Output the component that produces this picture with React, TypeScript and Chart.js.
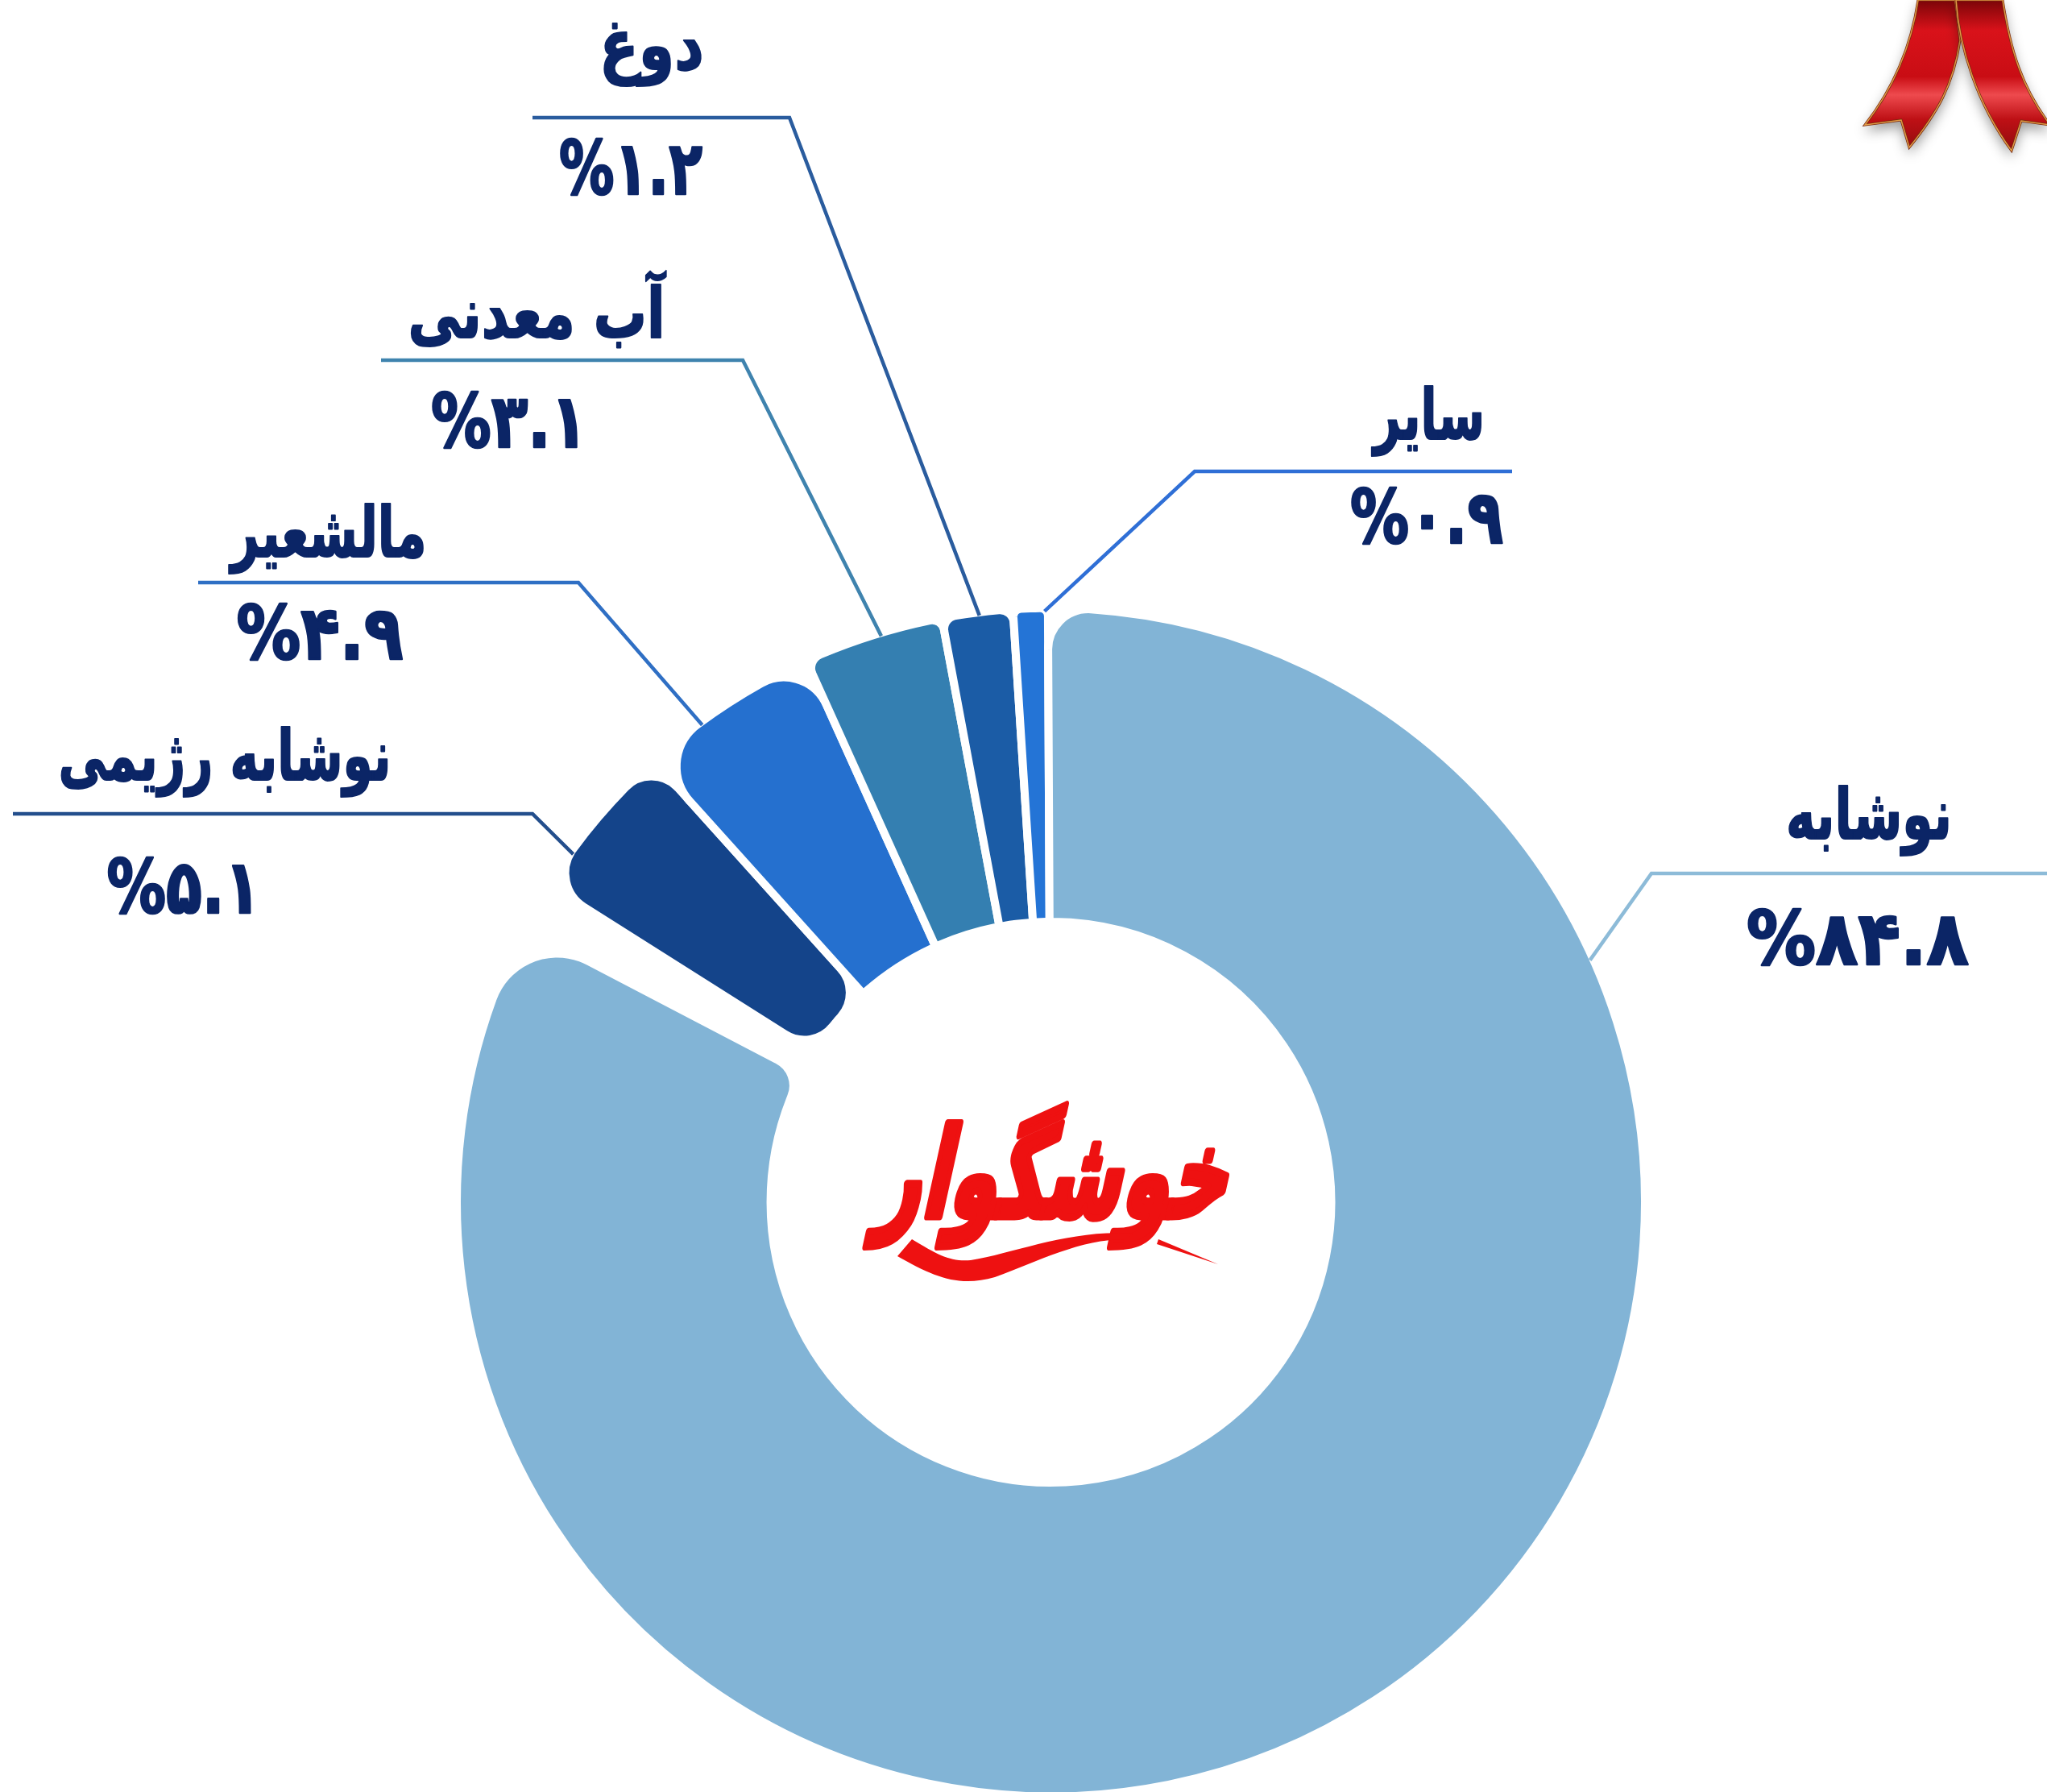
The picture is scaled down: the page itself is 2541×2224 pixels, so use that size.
import React, { useEffect, useRef } from "react";
import { Chart, registerables } from "chart.js";

Chart.register(...registerables);

// Slices run clockwise from the one left of the big slice, as the picture's gap lies there.
// drawnShares is the arc size measured on the picture (% of the circle); the source's arcs are
// not proportional to their printed labels, which are kept separately in printedPercents.
const categories = ["نوشابه رژیمی", "مالشعیر", "آب معدنی", "دوغ", "سایر", "نوشابه"];
const printedPercents = ["۵.۱", "۴.۹", "۳.۱", "۱.۲", "۰.۹", "۸۴.۸"];
const drawnShares = [4.36, 4.92, 3.81, 1.92, 0.94, 82.72];
const sliceColors = ["#14448A", "#2570CF", "#347FB1", "#1B5CA6", "#2474D6", "#82B4D6"];
const lineColors = ["#234E8C", "#2F6FC4", "#3F83AE", "#2A5C9E", "#2F6FD6", "#8DBBD8"];
const cornerRadii = [
  { outerStart: 50, outerEnd: 45, innerStart: 45, innerEnd: 45 },
  { outerStart: 65, outerEnd: 58, innerStart: 5, innerEnd: 5 },
  { outerStart: 18, outerEnd: 15, innerStart: 5, innerEnd: 5 },
  { outerStart: 17, outerEnd: 17, innerStart: 5, innerEnd: 5 },
  { outerStart: 10, outerEnd: 10, innerStart: 5, innerEnd: 5 },
  { outerStart: 50, outerEnd: 85, innerStart: 5, innerEnd: 36 },
];

const FONT = '"DejaVu Sans", sans-serif';
const TEXT = "#0B2566";
const GAP = 10;
// Label furniture: [name x, name y, value x, value y, rule far x, rule near x, rule y, anchor t,
//                   name width, value width]
const labelLayout = [
  [279, 945, 228, 1109, 16, 661, 1010, 0.24, 413, 191],
  [408, 668, 397, 794, 246, 718, 723, 0.33, 243, 207],
  [666, 396, 632, 531, 473, 922, 447, 0.555, 319, 194],
  [809, 63, 783, 217, 661, 980, 146, 0.525, 130, 178],
  [1774, 522, 1771, 650, 1877, 1483, 585, 0.9, 138, 190],
  [2320, 1018, 2306, 1173, 2541, 2050, 1084, 0.222, 206, 276],
];

function fitText(
  c: CanvasRenderingContext2D,
  text: string,
  x: number,
  y: number,
  px: number,
  width: number,
  yScale: number,
  dir: "rtl" | "ltr",
  weight: number
) {
  c.save();
  c.direction = dir;
  c.textAlign = "center";
  c.textBaseline = "middle";
  c.font = `bold ${px}px ${FONT}`;
  const w = c.measureText(text).width;
  c.translate(x, y);
  c.scale(width / w, yScale);
  c.fillText(text, 0, 0);
  if (weight > 0) {
    c.lineWidth = weight;
    c.lineJoin = "round";
    c.strokeStyle = c.fillStyle as string;
    c.strokeText(text, 0, 0);
  }
  c.restore();
}

function drawRibbon(c: CanvasRenderingContext2D) {
  const band = (pts: () => void) => {
    const g = c.createLinearGradient(0, 0, 0, 190);
    g.addColorStop(0, "#7A0508");
    g.addColorStop(0.2, "#D9121A");
    g.addColorStop(0.5, "#C90D14");
    g.addColorStop(0.62, "#EE4A4E");
    g.addColorStop(0.78, "#BE1015");
    g.addColorStop(1, "#8E0A0E");
    c.save();
    c.shadowColor = "rgba(0,0,0,0.4)";
    c.shadowBlur = 16;
    c.shadowOffsetY = 8;
    c.beginPath();
    pts();
    c.closePath();
    c.fillStyle = g;
    c.fill();
    c.restore();
    c.beginPath();
    pts();
    c.closePath();
    c.strokeStyle = "#7A2A10";
    c.lineWidth = 3;
    c.stroke();
    c.strokeStyle = "#E09A45";
    c.lineWidth = 1.5;
    c.stroke();
  };
  band(() => {
    c.moveTo(2381, 0);
    c.bezierCurveTo(2372, 60, 2350, 110, 2315, 155);
    c.lineTo(2360, 149);
    c.lineTo(2370, 183);
    c.bezierCurveTo(2405, 140, 2425, 105, 2433, 50);
    c.lineTo(2427, 0);
  });
  band(() => {
    c.moveTo(2428, 0);
    c.bezierCurveTo(2432, 60, 2455, 130, 2497, 187);
    c.lineTo(2509, 150);
    c.lineTo(2545, 155);
    c.bezierCurveTo(2510, 110, 2495, 60, 2486, 0);
  });
}

function drawLogo(c: CanvasRenderingContext2D) {
  c.save();
  c.fillStyle = "#EE1111";
  c.translate(1312, 1470);
  c.transform(1, 0, -0.22, 1, 0, 0);
  fitText(c, "خوشگوار", 0, 0, 118, 435, 1.3, "rtl", 7);
  c.restore();
  c.fillStyle = "#EE1111";
  c.beginPath();
  c.moveTo(1132, 1538);
  c.bezierCurveTo(1165, 1558, 1180, 1566, 1205, 1564);
  c.bezierCurveTo(1260, 1555, 1330, 1525, 1407, 1531);
  c.lineTo(1398, 1538);
  c.bezierCurveTo(1340, 1538, 1290, 1565, 1235, 1585);
  c.bezierCurveTo(1190, 1598, 1160, 1585, 1114, 1559);
  c.closePath();
  c.fill();
  c.beginPath();
  c.moveTo(1438, 1538);
  c.lineTo(1512, 1569);
  c.lineTo(1436, 1544);
  c.closePath();
  c.fill();
}

const furniture = {
  id: "furniture",
  afterDraw(chart: any) {
    const c: CanvasRenderingContext2D = chart.ctx;
    const arcs = chart.getDatasetMeta(0).data;
    c.save();
    categories.forEach((name, i) => {
      const [nx, ny, vx, vy, far, near, ry, t, nw, vw] = labelLayout[i];
      const a = arcs[i];
      const ang = a.startAngle + (a.endAngle - a.startAngle) * t;
      const r = a.outerRadius - GAP / 2 + 1;
      c.beginPath();
      c.moveTo(far, ry);
      c.lineTo(near, ry);
      c.lineTo(a.x + Math.cos(ang) * r, a.y + Math.sin(ang) * r);
      c.strokeStyle = lineColors[i];
      c.lineWidth = 4.5;
      c.lineJoin = "miter";
      c.stroke();
      c.fillStyle = TEXT;
      fitText(c, name, nx, ny, 62, nw, 1.4, "rtl", 1.5);
      fitText(c, `%${printedPercents[i]}`, vx, vy, 84, vw, 1.1, "ltr", 2.5);
    });
    c.restore();
    drawRibbon(c);
    drawLogo(c);
  },
};

export default function App() {
  const ref = useRef<HTMLCanvasElement>(null);
  useEffect(() => {
    const chart = new Chart(ref.current!, {
      type: "doughnut",
      data: {
        labels: categories,
        datasets: [
          {
            data: drawnShares,
            backgroundColor: sliceColors,
            borderColor: "#ffffff",
            borderWidth: GAP,
            borderRadius: (ctx: any) => cornerRadii[ctx.dataIndex],
          } as any,
        ],
      },
      options: {
        responsive: false,
        animation: false,
        cutout: 343,
        radius: 737.5,
        rotation: -57.7,
        circumference: 355.2,
        layout: { padding: { left: 572, right: 504, top: 760, bottom: 0 } },
        plugins: { legend: { display: false }, tooltip: { enabled: false } },
      },
      plugins: [furniture],
    } as any);
    return () => chart.destroy();
  }, []);
  return (
    <canvas
      ref={ref}
      width={2541}
      height={2224}
      style={{ position: "absolute", left: 0, top: 0, width: 2541, height: 2224, background: "#fff" }}
    />
  );
}
